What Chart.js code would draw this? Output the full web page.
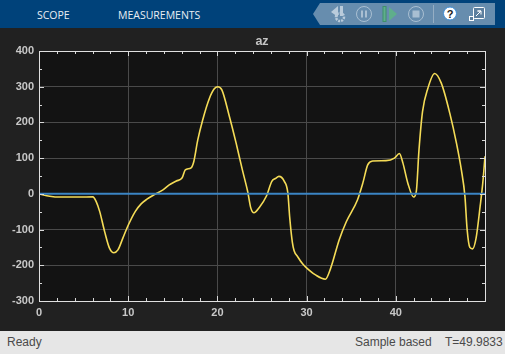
<!DOCTYPE html>
<html>
<head>
<meta charset="utf-8">
<title>az</title>
<script src="https://cdn.jsdelivr.net/npm/chart.js@4/dist/chart.umd.min.js"></script>
<style>
html, body { margin: 0; padding: 0; width: 505px; height: 354px; overflow: hidden; background: #212121; }
#header { position: absolute; left: 0; top: 0; width: 505px; height: 28px; background: #00427a; }
#header span { position: absolute; top: 7px; font: 10.5px "Open Sans", sans-serif; color: #e8eef4; line-height: 16px; }
#icons { position: absolute; left: 0; top: 0; }
#wrap { position: absolute; left: 0; top: 28px; width: 505px; height: 303px; }
#status { position: absolute; left: 0; top: 331px; width: 505px; height: 23px; background: #e6e6e6; font: 12px "Liberation Sans", sans-serif; color: #4a4a4a; line-height: 23px; }
#status span { position: absolute; top: 0; }
</style>
</head>
<body>
<div id="header">
  <span style="left:37px">SCOPE</span>
  <span style="left:118px">MEASUREMENTS</span>
  <svg id="icons" width="505" height="28">
    <polygon points="313,14 320,3 495,3 495,25 320,25" fill="#678dae"/>
    <polygon points="331,12 338,6 338,17" fill="#b9cbdb"/>
    <rect x="340" y="6" width="3" height="10" fill="#b9cbdb"/>
    <circle cx="340" cy="17" r="4" fill="none" stroke="#b9cbdb" stroke-width="2.5" stroke-dasharray="2 1"/>
    <circle cx="364" cy="14" r="7.5" fill="none" stroke="#a9bfd2" stroke-width="1"/>
    <rect x="361" y="10.5" width="2" height="7" fill="#a9bfd2"/>
    <rect x="365" y="10.5" width="2" height="7" fill="#a9bfd2"/>
    <rect x="383" y="6.5" width="3" height="15" fill="#5fae8c" stroke="#3f8f6a"/>
    <polygon points="389,7 397,14 389,21" fill="#5fae8c"/>
    <circle cx="416" cy="14" r="7.5" fill="none" stroke="#a9bfd2" stroke-width="1"/>
    <rect x="412.5" y="10.5" width="7" height="7" fill="#a9bfd2"/>
    <line x1="433.5" y1="5" x2="433.5" y2="23" stroke="#95aec4"/>
    <circle cx="450" cy="13.5" r="6.5" fill="#ffffff" stroke="#3f8fd8"/>
    <text x="450" y="17.5" text-anchor="middle" font-family="Liberation Sans" font-weight="bold" font-size="11" fill="#1a1a1a">?</text>
    <rect x="473.5" y="7.5" width="11" height="11" rx="1" fill="#5d7f9e" stroke="#ffffff"/>
    <polyline points="476,16 481,11 477.5,11 481,11 481,14.5" fill="none" stroke="#ffffff"/>
    <rect x="469.5" y="16.5" width="4" height="4" fill="#5d7f9e" stroke="#ffffff"/>
  </svg>
</div>
<div id="wrap"><canvas id="myChart" width="505" height="303"></canvas></div>
<div id="status">
  <span style="left:7px">Ready</span>
  <span style="left:355px">Sample based</span>
  <span style="left:445px">T=49.9833</span>
</div>
<script>
// valores
const tempo = [0, 1.2, 2.3, 4.55, 6.04, 6.4, 6.8, 7.35, 7.9, 8.4, 8.85, 9.4, 10, 10.8, 11.45, 12.1, 12.95, 13.9, 14.6, 15.4, 16.05, 16.4, 17.05, 17.35, 17.8, 18.35, 19.1, 19.65, 20.05, 20.5, 21.3, 22.1, 22.8, 23.4, 23.75, 24.1, 24.7, 25.5, 26.1, 26.5, 26.9, 27.5, 27.9, 28.1, 28.4, 28.6, 29, 29.55, 29.9, 31, 32.1, 32.7, 33.65, 34.45, 35.7, 36.3, 36.85, 37.4, 38.9, 39.85, 40.4, 40.8, 41.35, 42, 42.3, 42.6, 43, 43.6, 44.35, 45.1, 46.05, 46.8, 47.35, 47.75, 48, 48.3, 48.6, 49, 49.45, 49.75, 50];
const az = [0, -6.5, -9, -9, -8.5, -21, -49, -105, -152, -165, -157, -124, -88, -49, -28, -15, -2, 11, 25, 36, 45, 67, 73, 90, 151, 207, 267, 294, 300, 291, 221, 142, 67, 6, -40, -53, -38, -6, 35, 43, 49, 35, 2, -64, -135, -159, -176, -196, -205, -227, -239, -208, -129, -78, -17, 30, 81, 92, 93, 100, 113, 86, 30, -9, 7, 123, 231, 296, 337, 310, 226, 142, 67, -7, -101, -150, -154, -124, -36, 30, 105];
const tempoBase = [0, 50];
const azBase = [0, 0];
const ticksX = [0, 10, 20, 30, 40];
const ticksMenoresX = [2, 4, 6, 8, 12, 14, 16, 18, 22, 24, 26, 28, 32, 34, 36, 38, 42, 44, 46, 48];
const ticksMenoresY = [-250, -150, -50, 50, 150, 250, 350];
const ticksMaioresY = [-200, -100, 0, 100, 200, 300];

// fundo da area do grafico
const fundoPlot = {
    id: 'fundoPlot',
    beforeDraw(chart) {
        const a = chart.chartArea;
        chart.ctx.fillStyle = '#131313';
        chart.ctx.fillRect(a.left, a.top, a.right - a.left, a.bottom - a.top);
    }
};

// marcas internas nas quatro bordas
const marcas = {
    id: 'marcas',
    afterDraw(chart) {
        const ctx = chart.ctx, a = chart.chartArea;
        const sx = chart.scales.x, sy = chart.scales.y;
        ctx.save();
        ctx.strokeStyle = '#d9d9d9';
        ctx.lineWidth = 1;
        ctx.beginPath();
        const vertical = (v, len) => {
            const p = Math.round(sx.getPixelForValue(v)) + 0.5;
            ctx.moveTo(p, a.top); ctx.lineTo(p, a.top + len);
            ctx.moveTo(p, a.bottom); ctx.lineTo(p, a.bottom - len);
        };
        const horizontal = (v, len) => {
            const p = Math.round(sy.getPixelForValue(v)) + 0.5;
            ctx.moveTo(a.left, p); ctx.lineTo(a.left + len, p);
            ctx.moveTo(a.right, p); ctx.lineTo(a.right - len, p);
        };
        ticksMenoresX.forEach(v => vertical(v, 3));
        ticksX.forEach(v => vertical(v, 5));
        ticksMenoresY.forEach(v => horizontal(v, 3));
        ticksMaioresY.forEach(v => horizontal(v, 5));
        ctx.stroke();
        ctx.strokeStyle = '#e0e0e0';
        ctx.strokeRect(Math.round(a.left) + 0.5, Math.round(a.top) + 0.5, Math.round(a.right - a.left), Math.round(a.bottom - a.top));
        ctx.restore();
    }
};

const fonteEixo = { family: '"Liberation Sans", sans-serif', size: 11, weight: 'bold' };
const fonteTitulo = { family: '"Liberation Sans", sans-serif', size: 12.5, weight: 'bold' };

const config = {
    type: 'line',
    data: {
        datasets: [{
            data: tempoBase.map((t, i) => ({ x: t, y: azBase[i] })),
            borderColor: '#3b85c4',
            borderWidth: 2,
            pointRadius: 0
        }, {
            data: tempo.map((t, i) => ({ x: t, y: az[i] })),
            borderColor: '#f5dc57',
            borderWidth: 1.6,
            pointRadius: 0,
            cubicInterpolationMode: 'monotone'
        }]
    },
    options: {
        responsive: false,
        animation: false,
        layout: { padding: { left: 0, right: 20, top: 0, bottom: 0 } },
        plugins: {
            legend: { display: false },
            tooltip: { enabled: false },
            title: {
                display: true,
                text: 'az',
                fullSize: false,
                color: '#c4c4c4',
                font: fonteTitulo,
                padding: { top: 6, bottom: 2 }
            }
        },
        scales: {
            x: {
                type: 'linear',
                min: 0,
                max: 50,
                afterFit(scale) { scale.height = 30; },
                afterBuildTicks(scale) { scale.ticks = ticksX.map(v => ({ value: v })); },
                grid: { color: '#4a4a4a', lineWidth: 1, drawTicks: false, drawOnChartArea: true },
                border: { display: false },
                ticks: { color: '#c8c8c8', font: fonteEixo, padding: 5, maxRotation: 0 }
            },
            y: {
                min: -300,
                max: 400,
                afterFit(scale) { scale.width = 39; },
                grid: { color: '#4a4a4a', lineWidth: 1, drawTicks: false },
                border: { display: false },
                ticks: { color: '#c8c8c8', font: fonteEixo, stepSize: 100, padding: 5 }
            }
        }
    },
    plugins: [fundoPlot, marcas]
};

document.addEventListener('DOMContentLoaded', function() {
    const ctx = document.getElementById('myChart').getContext('2d');
    new Chart(ctx, config);
});
</script>
</body>
</html>
